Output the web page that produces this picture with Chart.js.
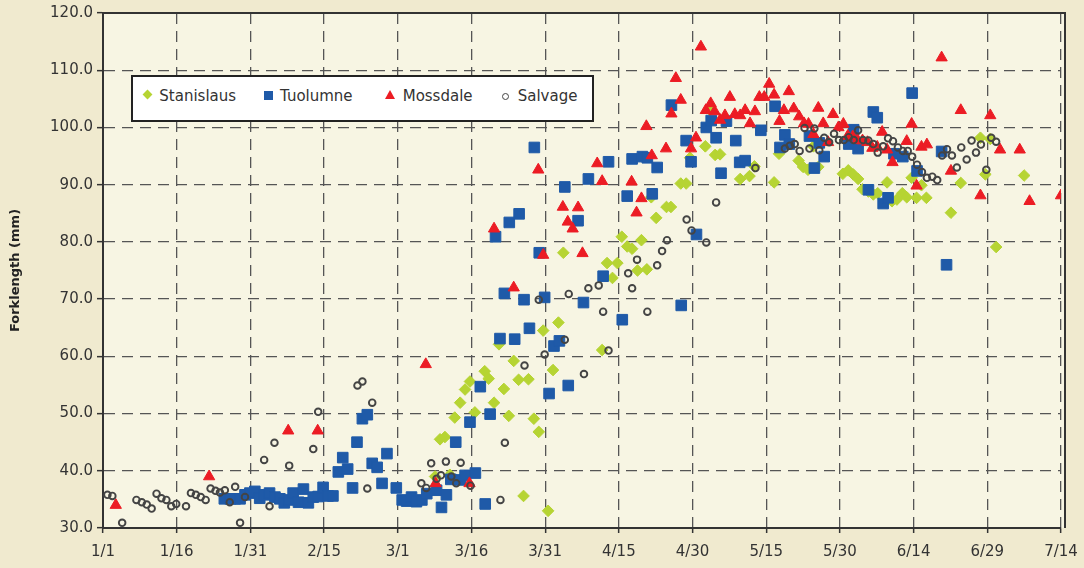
<!DOCTYPE html>
<html>
<head>
<meta charset="utf-8">
<title>Forklength</title>
<script src="https://cdn.jsdelivr.net/npm/chart.js@4.4.0/dist/chart.umd.min.js"></script>
<style>
  html, body { margin: 0; padding: 0; background: #f0eacf; }
  #wrap { position: relative; width: 1084px; height: 568px; }
  #chart { position: absolute; left: 0; top: 0; }
  #legend {
    position: absolute; left: 131px; top: 75px; width: 463px; height: 47px;
    box-sizing: border-box; border: 2px solid #222; background: #fff;
    font-family: "DejaVu Sans"; font-size: 15px; color: #333;
  }
  #legend .lbl { position: absolute; top: 10px; line-height: 18px; white-space: nowrap; }
  #legend .mk { position: absolute; box-sizing: border-box; }
</style>
</head>
<body>
<div id="wrap">
  <canvas id="chart" width="1084" height="568"></canvas>
  <div id="legend"></div>
</div>
<script>
// day 0 = 1/1, one tick every 15 days
const dateTicks = ['1/1', '1/16', '1/31', '2/15', '3/1', '3/16', '3/31', '4/15', '4/30', '5/15', '5/30', '6/14', '6/29', '7/14'];
const seriesNames = ['Stanislaus', 'Tuolumne', 'Mossdale', 'Salvage'];

// [day, forklength mm]
const stanislaus = [
  [67.6,39.0],[68.6,45.5],[69.6,45.9],[70.6,39.3],[71.6,49.3],[72.7,51.9],[73.7,54.2],[74.7,55.6],[75.7,50.2],
  [77.7,57.4],[78.5,56.1],[79.6,51.9],[80.6,62.1],[81.6,54.3],[82.6,49.6],[83.6,59.2],[84.6,55.9],[85.6,35.6],
  [86.6,56.0],[87.7,49.1],[88.7,46.8],[89.6,64.5],[90.6,33.0],[91.6,57.6],[92.7,65.9],[93.7,78.1],[101.6,61.1],
  [102.6,76.3],[103.7,73.7],[104.7,76.3],[105.6,80.9],[106.7,79.2],[107.7,78.8],[108.8,75.0],[109.6,80.3],
  [110.7,75.2],[111.6,87.8],[112.6,84.2],[114.7,86.1],[115.6,86.1],[117.6,90.2],[118.7,90.2],[119.5,94.7],
  [122.6,96.7],[123.5,103.1],[124.6,95.2],[125.6,95.3],[129.7,91.0],[131.6,91.5],[132.6,93.2],[136.6,90.4],
  [137.6,95.4],[141.6,94.2],[142.5,93.1],[143.5,92.6],[144.6,96.7],[145.6,93.1],[150.6,91.9],[151.7,92.5],
  [152.7,91.8],[153.7,91.0],[154.6,89.2],[155.8,88.8],[156.8,88.3],[157.7,88.5],[159.6,90.4],[160.6,87.1],
  [161.6,87.4],[162.7,88.5],[163.6,87.8],[164.6,91.2],[165.6,87.7],[166.6,89.9],[167.6,87.7],[172.6,85.1],
  [174.6,90.3],[178.6,98.2],[179.6,91.8],[180.6,98.0],[181.8,79.1],[187.5,91.6]
];
const tuolumne = [
  [24.7,35.1],[25.9,35.1],[26.9,35.1],[27.9,35.1],[28.9,35.8],[29.9,36.1],[30.9,36.4],[31.9,35.2],[32.9,35.8],
  [33.9,36.1],[35.0,35.4],[36.0,35.1],[36.9,34.4],[37.9,34.9],[38.7,36.1],[39.8,34.5],[40.8,36.8],[41.8,34.4],
  [42.8,35.4],[43.8,35.5],[44.8,37.1],[45.8,35.6],[46.8,35.6],[47.9,39.8],[48.8,42.3],[49.8,40.3],[50.8,37.0],
  [51.7,45.0],[52.8,49.1],[53.8,49.8],[54.8,41.3],[55.8,40.6],[56.8,37.8],[57.8,43.0],[59.7,37.0],[60.9,34.9],
  [61.8,34.7],[62.8,35.4],[63.8,34.6],[64.9,34.9],[65.9,36.0],[67.9,36.6],[68.9,33.6],[69.9,35.8],[70.8,38.5],
  [71.8,45.0],[72.7,38.4],[73.7,39.2],[74.7,48.5],[75.8,39.6],[76.8,54.7],[77.8,34.2],[78.8,49.9],[79.9,80.9],
  [80.8,63.1],[81.7,71.0],[82.7,83.4],[83.8,63.0],[84.7,84.9],[85.7,69.9],[86.8,64.9],[87.8,96.5],[88.8,78.1],
  [89.9,70.3],[90.8,53.5],[91.8,61.8],[92.9,62.7],[94.0,89.6],[94.7,54.9],[96.7,83.7],[97.8,69.4],[98.8,91.0],
  [101.8,74.0],[102.9,94.0],[105.7,66.4],[106.7,88.0],[107.7,94.5],[109.8,94.9],[110.8,94.7],[111.8,88.4],
  [112.8,93.0],[115.7,103.9],[117.7,68.9],[118.7,97.7],[119.7,94.0],[120.8,81.3],[122.8,100.0],[123.8,101.2],
  [124.8,98.2],[125.8,92.0],[126.9,101.1],[128.8,97.7],[129.6,93.9],[130.7,94.2],[133.9,99.5],[136.8,103.7],
  [137.8,96.5],[138.8,98.7],[139.7,97.1],[143.8,98.5],[144.8,92.9],[145.8,97.3],[146.8,94.9],[151.8,97.1],
  [152.8,99.6],[153.7,96.3],[155.8,89.1],[156.8,102.7],[157.6,101.7],[158.8,86.7],[159.8,87.7],[161.0,95.4],
  [162.8,94.9],[164.7,106.0],[165.7,92.4],[170.7,95.8],[171.7,76.0]
];
const mossdale = [
  [2.6,34.0],[21.6,39.0],[37.7,47.0],[43.7,47.0],[65.7,58.6],[67.7,37.8],[74.6,37.8],[79.6,82.3],[83.6,72.0],
  [88.6,92.6],[89.6,77.7],[93.6,86.1],[94.6,83.5],[95.6,82.3],[96.7,86.0],[97.6,78.0],[100.6,93.7],[101.6,90.6],
  [107.6,90.5],[108.6,85.1],[109.6,87.6],[110.6,100.2],[111.7,95.1],[114.6,96.3],[115.7,102.4],[116.6,108.6],
  [117.6,104.8],[119.7,96.3],[120.7,98.2],[121.7,114.1],[122.7,103.0],[123.7,104.2],[124.5,102.8],[125.6,101.3],
  [126.6,102.1],[127.6,105.3],[128.6,102.3],[129.7,102.1],[130.7,103.0],[131.7,100.7],[132.7,102.8],[133.6,105.3],
  [134.6,105.3],[135.6,107.6],[136.6,105.7],[137.7,101.1],[138.6,103.0],[139.6,106.3],[140.6,103.3],[141.7,101.9],
  [142.7,100.7],[143.6,100.6],[144.6,98.8],[145.6,103.4],[146.6,100.7],[147.6,97.4],[148.6,102.3],[149.7,100.0],
  [150.7,100.6],[151.6,98.5],[152.6,98.4],[153.6,97.8],[154.6,97.7],[155.6,97.4],[156.6,96.4],[157.6,96.6],
  [158.6,99.2],[159.6,96.1],[160.7,93.9],[163.6,97.6],[164.6,100.6],[165.6,89.8],[166.6,96.6],[167.7,97.0],
  [170.7,112.2],[172.6,92.4],[174.6,103.0],[178.6,88.1],[180.6,102.1],[182.6,96.1],[186.6,96.1],[188.6,87.1],
  [195.0,88.1]
];
const salvage = [
  [0.9,35.8],[1.9,35.6],[3.9,30.9],[6.8,34.9],[7.9,34.5],[8.9,34.1],[9.9,33.4],[10.9,36.0],[11.9,35.2],
  [12.9,34.9],[13.9,33.8],[14.9,34.2],[16.9,33.8],[17.9,36.1],[18.9,35.8],[19.9,35.4],[20.9,34.9],[21.9,36.9],
  [22.9,36.5],[23.8,36.2],[24.8,36.6],[25.8,34.5],[26.9,37.2],[27.9,30.9],[28.9,35.4],[32.8,41.9],[33.9,33.8],
  [34.9,44.9],[37.9,40.9],[42.8,43.8],[43.8,50.3],[51.8,54.9],[52.8,55.6],[53.8,36.9],[54.8,51.9],[64.8,37.8],
  [65.8,37.0],[66.8,41.3],[67.9,38.6],[68.8,39.2],[69.8,41.6],[70.9,39.0],[71.9,37.8],[72.8,41.4],[74.8,37.4],
  [80.9,34.9],[81.8,44.9],[85.8,58.4],[88.7,69.9],[89.9,60.3],[94.0,62.9],[94.8,70.9],[97.9,56.9],[98.8,71.9],
  [100.9,72.4],[101.8,67.8],[102.9,61.0],[106.9,74.5],[107.7,71.9],[108.7,76.9],[110.8,67.8],[112.8,75.9],
  [113.8,78.4],[114.8,80.3],[118.8,83.9],[119.8,82.0],[122.8,79.9],[124.8,86.9],[132.8,92.9],[138.8,96.3],
  [139.8,96.8],[140.8,97.1],[141.8,95.9],[142.8,99.9],[143.8,96.3],[144.8,99.8],[145.8,96.0],[146.8,98.2],
  [147.8,97.4],[148.8,98.9],[149.8,97.8],[150.8,97.8],[151.8,98.3],[152.8,97.8],[153.7,99.5],[154.7,97.8],
  [155.8,97.7],[156.8,97.1],[157.7,95.6],[158.8,96.7],[159.8,98.1],[160.8,97.6],[161.8,96.5],[162.8,95.9],
  [163.8,95.9],[164.7,94.9],[165.7,93.5],[166.7,92.2],[167.7,91.2],[168.8,91.4],[169.8,90.8],[170.8,95.1],
  [171.8,96.2],[172.8,95.1],[173.8,93.0],[174.7,96.5],[175.8,94.4],[176.8,97.7],[177.7,95.6],[178.7,97.0],
  [179.8,92.6],[180.8,98.2],[181.8,97.5]
];

const GREEN = '#b6d433', BLUE = '#1f5aa8', RED = '#ec1c24', GREY = '#444444';
const FONT = 'DejaVu Sans';
Chart.defaults.font.family = FONT;

function toPoints(arr) {
  return arr.map(p => ({ x: p[0], y: p[1] }));
}

const datasets = [
  { label: seriesNames[0], data: toPoints(stanislaus), pointStyle: 'rectRot', pointRadius: 5.8,
    backgroundColor: GREEN, borderColor: GREEN, borderWidth: 1, order: 4 },
  { label: seriesNames[1], data: toPoints(tuolumne), pointStyle: 'rect', pointRadius: 7.5,
    backgroundColor: BLUE, borderColor: BLUE, borderWidth: 1, order: 3 },
  { label: seriesNames[2], data: toPoints(mossdale), pointStyle: 'triangle', pointRadius: 6.5,
    backgroundColor: RED, borderColor: RED, borderWidth: 1, order: 2 },
  { label: seriesNames[3], data: toPoints(salvage), pointStyle: 'circle', pointRadius: 3.3,
    backgroundColor: 'rgba(0,0,0,0)', borderColor: GREY, borderWidth: 1.9, order: 1 }
];

// plot background + the top/right frame lines
const framePlugin = {
  id: 'frame',
  beforeDraw(chart) {
    const { ctx, chartArea: a } = chart;
    ctx.save();
    ctx.fillStyle = '#f0eacf';
    ctx.fillRect(0, 0, chart.width, chart.height);
    ctx.fillStyle = '#f7f5e3';
    ctx.fillRect(a.left, a.top, a.right - a.left + 4, a.bottom - a.top);
    ctx.restore();
  },
  afterDraw(chart) {
    const { ctx, chartArea: a } = chart;
    ctx.save();
    ctx.strokeStyle = '#333';
    ctx.lineWidth = 2;
    ctx.beginPath();
    ctx.moveTo(a.left, a.top);
    ctx.lineTo(a.right + 4, a.top);
    ctx.lineTo(a.right + 4, a.bottom);
    ctx.stroke();
    ctx.restore();
  }
};

const gridOpts = {
  color: '#555',
  lineWidth: 1.3,
  tickColor: '#333',
  tickWidth: 1.5,
  tickLength: 6
};
const borderOpts = { color: '#333', width: 2, dash: [11, 7] };

new Chart(document.getElementById('chart'), {
  type: 'scatter',
  data: { datasets: datasets },
  options: {
    responsive: false,
    animation: false,
    layout: { padding: { top: 12, right: 23, left: 0, bottom: 0 } },
    plugins: { legend: { display: false }, tooltip: { enabled: false } },
    scales: {
      x: {
        type: 'linear',
        min: 0,
        max: 195,
        ticks: {
          stepSize: 15,
          autoSkip: false,
          maxRotation: 0,
          padding: 10,
          color: '#333',
          font: { size: 15 },
          callback: v => dateTicks[Math.round(v / 15)]
        },
        grid: Object.assign({}, gridOpts, { tickLength: 5 }),
        border: borderOpts,
        afterFit: s => {
          s.height = 40;
          s.paddingLeft = 0;
          s.paddingRight = 0;
        }
      },
      y: {
        min: 30,
        max: 120,
        ticks: {
          stepSize: 10,
          padding: 4,
          color: '#333',
          font: { size: 15 },
          callback: v => v.toFixed(1)
        },
        title: {
          display: true,
          text: 'Forklength (mm)',
          color: '#222',
          font: { size: 13, weight: 'bold' },
          padding: { top: 8, bottom: 0 }
        },
        grid: gridOpts,
        border: borderOpts,
        afterFit: s => { s.width = 103; }
      }
    }
  },
  plugins: [framePlugin]
});

// legend box, drawn as html so the labels stay real text
const legendMarkerCenters = [[14.7, 17.7], [135.3, 18], [257.7, 18], [372.3, 19]];
const legendTextLeft = [26.3, 147, 269.7, 384.7];
const legend = document.getElementById('legend');

function makeMarker(i) {
  const m = document.createElement('span');
  m.className = 'mk';
  const c = legendMarkerCenters[i];
  let w = 9, h = 9;
  if (i === 0) {
    w = h = 7;
    m.style.background = GREEN;
    m.style.transform = 'rotate(45deg)';
  } else if (i === 1) {
    m.style.background = BLUE;
  } else if (i === 2) {
    w = 11; h = 9;
    m.style.width = '0px'; m.style.height = '0px';
    m.style.borderLeft = '5.5px solid transparent';
    m.style.borderRight = '5.5px solid transparent';
    m.style.borderBottom = '9px solid ' + RED;
  } else {
    w = h = 7;
    m.style.border = '1.8px solid ' + GREY;
    m.style.borderRadius = '50%';
  }
  if (i !== 2) { m.style.width = w + 'px'; m.style.height = h + 'px'; }
  m.style.left = (c[0] - w / 2) + 'px';
  m.style.top = (c[1] - h / 2 - (i === 2 ? 1 : 0)) + 'px';
  return m;
}

seriesNames.forEach((name, i) => {
  legend.appendChild(makeMarker(i));
  const t = document.createElement('span');
  t.className = 'lbl';
  t.textContent = name;
  t.style.left = legendTextLeft[i] + 'px';
  legend.appendChild(t);
});
</script>
</body>
</html>
